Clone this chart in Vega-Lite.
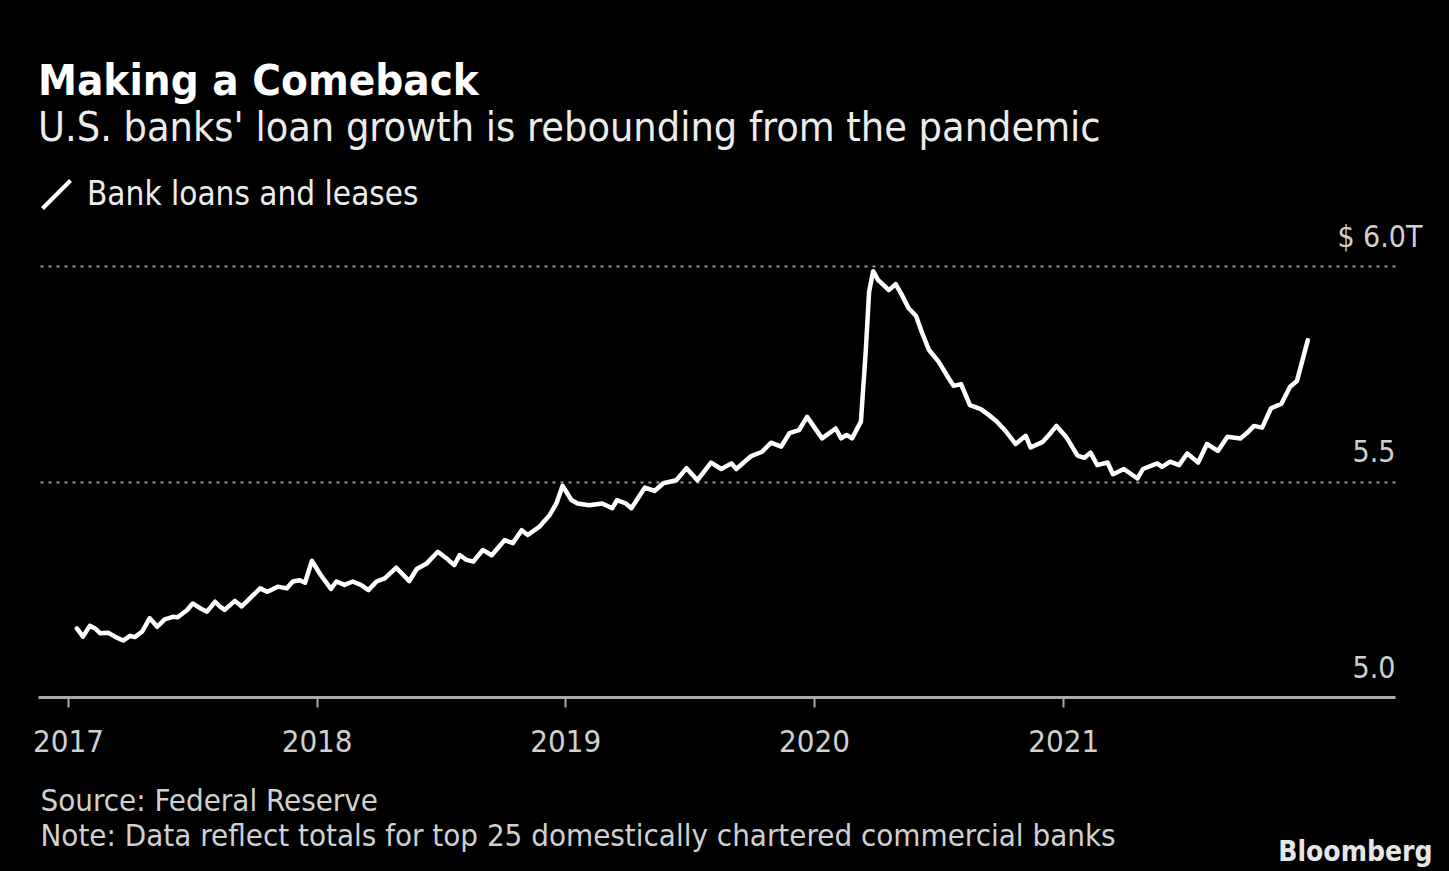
{
  "$schema": "https://vega.github.io/schema/vega-lite/v6.json",
  "width": 1357,
  "height": 431,
  "autosize": {"type": "none"},
  "padding": {"left": 38, "top": 266, "right": 54, "bottom": 174},
  "background": "#000000",
  "config": {
    "view": {"stroke": null},
    "font": "DejaVu Sans Condensed, DejaVu Sans"
  },
  "title": {
    "text": "Making a Comeback",
    "subtitle": "U.S. banks' loan growth is rebounding from the pandemic",
    "anchor": "start",
    "frame": "group",
    "orient": "top",
    "offset": 28,
    "font": "DejaVu Sans Condensed, DejaVu Sans",
    "fontSize": 43.5,
    "fontWeight": "bold",
    "color": "#ffffff",
    "subtitleFont": "DejaVu Sans Condensed, DejaVu Sans",
    "subtitleFontSize": 41,
    "subtitleColor": "#ececec",
    "subtitlePadding": 5
  },
  "data": {
    "values": [
      {"date": "2017-01-14", "value": 5.159},
      {"date": "2017-01-23", "value": 5.140},
      {"date": "2017-02-02", "value": 5.165},
      {"date": "2017-02-10", "value": 5.159},
      {"date": "2017-02-17", "value": 5.148},
      {"date": "2017-03-01", "value": 5.149},
      {"date": "2017-03-11", "value": 5.140},
      {"date": "2017-03-23", "value": 5.131},
      {"date": "2017-04-02", "value": 5.142},
      {"date": "2017-04-09", "value": 5.139},
      {"date": "2017-04-20", "value": 5.152},
      {"date": "2017-05-01", "value": 5.183},
      {"date": "2017-05-12", "value": 5.163},
      {"date": "2017-05-23", "value": 5.180},
      {"date": "2017-06-04", "value": 5.186},
      {"date": "2017-06-11", "value": 5.185},
      {"date": "2017-06-25", "value": 5.202},
      {"date": "2017-07-03", "value": 5.217},
      {"date": "2017-07-14", "value": 5.206},
      {"date": "2017-07-24", "value": 5.198},
      {"date": "2017-08-05", "value": 5.221},
      {"date": "2017-08-12", "value": 5.210},
      {"date": "2017-08-19", "value": 5.202},
      {"date": "2017-09-03", "value": 5.223},
      {"date": "2017-09-13", "value": 5.210},
      {"date": "2017-09-25", "value": 5.229},
      {"date": "2017-10-10", "value": 5.252},
      {"date": "2017-10-21", "value": 5.244},
      {"date": "2017-11-05", "value": 5.256},
      {"date": "2017-11-18", "value": 5.252},
      {"date": "2017-11-27", "value": 5.268},
      {"date": "2017-12-07", "value": 5.271},
      {"date": "2017-12-15", "value": 5.265},
      {"date": "2017-12-25", "value": 5.316},
      {"date": "2018-01-07", "value": 5.283},
      {"date": "2018-01-22", "value": 5.251},
      {"date": "2018-01-30", "value": 5.268},
      {"date": "2018-02-11", "value": 5.260},
      {"date": "2018-02-23", "value": 5.268},
      {"date": "2018-03-07", "value": 5.260},
      {"date": "2018-03-18", "value": 5.248},
      {"date": "2018-03-30", "value": 5.268},
      {"date": "2018-04-11", "value": 5.275},
      {"date": "2018-04-28", "value": 5.300},
      {"date": "2018-05-17", "value": 5.269},
      {"date": "2018-05-28", "value": 5.297},
      {"date": "2018-06-11", "value": 5.309},
      {"date": "2018-06-28", "value": 5.337},
      {"date": "2018-07-12", "value": 5.320},
      {"date": "2018-07-22", "value": 5.306},
      {"date": "2018-07-30", "value": 5.329},
      {"date": "2018-08-09", "value": 5.318},
      {"date": "2018-08-19", "value": 5.314},
      {"date": "2018-09-02", "value": 5.341},
      {"date": "2018-09-15", "value": 5.329},
      {"date": "2018-09-26", "value": 5.349},
      {"date": "2018-10-04", "value": 5.364},
      {"date": "2018-10-16", "value": 5.357},
      {"date": "2018-10-29", "value": 5.387},
      {"date": "2018-11-07", "value": 5.376},
      {"date": "2018-11-24", "value": 5.395},
      {"date": "2018-12-09", "value": 5.422},
      {"date": "2018-12-19", "value": 5.449},
      {"date": "2018-12-28", "value": 5.490},
      {"date": "2019-01-10", "value": 5.457},
      {"date": "2019-01-19", "value": 5.449},
      {"date": "2019-02-05", "value": 5.445},
      {"date": "2019-02-24", "value": 5.449},
      {"date": "2019-03-11", "value": 5.438},
      {"date": "2019-03-18", "value": 5.457},
      {"date": "2019-03-31", "value": 5.449},
      {"date": "2019-04-08", "value": 5.438},
      {"date": "2019-04-28", "value": 5.486},
      {"date": "2019-05-12", "value": 5.478},
      {"date": "2019-05-25", "value": 5.496},
      {"date": "2019-06-13", "value": 5.503},
      {"date": "2019-06-28", "value": 5.531},
      {"date": "2019-07-14", "value": 5.503},
      {"date": "2019-08-03", "value": 5.544},
      {"date": "2019-08-18", "value": 5.529},
      {"date": "2019-09-02", "value": 5.542},
      {"date": "2019-09-09", "value": 5.529},
      {"date": "2019-10-01", "value": 5.559},
      {"date": "2019-10-17", "value": 5.569},
      {"date": "2019-10-30", "value": 5.590},
      {"date": "2019-11-14", "value": 5.581},
      {"date": "2019-11-26", "value": 5.612},
      {"date": "2019-12-10", "value": 5.619},
      {"date": "2019-12-22", "value": 5.650},
      {"date": "2020-01-13", "value": 5.600},
      {"date": "2020-02-02", "value": 5.623},
      {"date": "2020-02-10", "value": 5.600},
      {"date": "2020-02-18", "value": 5.608},
      {"date": "2020-02-26", "value": 5.600},
      {"date": "2020-03-10", "value": 5.639},
      {"date": "2020-03-17", "value": 5.800},
      {"date": "2020-03-22", "value": 5.940},
      {"date": "2020-03-28", "value": 5.988},
      {"date": "2020-04-04", "value": 5.968},
      {"date": "2020-04-20", "value": 5.944},
      {"date": "2020-04-30", "value": 5.958},
      {"date": "2020-05-09", "value": 5.933},
      {"date": "2020-05-19", "value": 5.902},
      {"date": "2020-05-30", "value": 5.884},
      {"date": "2020-06-07", "value": 5.848},
      {"date": "2020-06-18", "value": 5.805},
      {"date": "2020-07-02", "value": 5.778},
      {"date": "2020-07-17", "value": 5.739},
      {"date": "2020-07-24", "value": 5.722},
      {"date": "2020-08-04", "value": 5.726},
      {"date": "2020-08-17", "value": 5.677},
      {"date": "2020-09-02", "value": 5.668},
      {"date": "2020-09-14", "value": 5.654},
      {"date": "2020-09-25", "value": 5.640},
      {"date": "2020-10-09", "value": 5.616},
      {"date": "2020-10-23", "value": 5.587},
      {"date": "2020-11-07", "value": 5.606},
      {"date": "2020-11-14", "value": 5.579},
      {"date": "2020-12-02", "value": 5.592},
      {"date": "2020-12-11", "value": 5.608},
      {"date": "2020-12-22", "value": 5.629},
      {"date": "2021-01-05", "value": 5.604},
      {"date": "2021-01-22", "value": 5.560},
      {"date": "2021-02-01", "value": 5.555},
      {"date": "2021-02-10", "value": 5.567},
      {"date": "2021-02-20", "value": 5.538},
      {"date": "2021-03-07", "value": 5.544},
      {"date": "2021-03-15", "value": 5.517},
      {"date": "2021-03-31", "value": 5.529},
      {"date": "2021-04-20", "value": 5.507},
      {"date": "2021-04-28", "value": 5.529},
      {"date": "2021-05-19", "value": 5.542},
      {"date": "2021-05-26", "value": 5.534},
      {"date": "2021-06-07", "value": 5.546},
      {"date": "2021-06-20", "value": 5.538},
      {"date": "2021-07-02", "value": 5.565},
      {"date": "2021-07-18", "value": 5.544},
      {"date": "2021-07-31", "value": 5.587},
      {"date": "2021-08-16", "value": 5.571},
      {"date": "2021-08-30", "value": 5.604},
      {"date": "2021-09-18", "value": 5.600},
      {"date": "2021-09-28", "value": 5.613},
      {"date": "2021-10-08", "value": 5.629},
      {"date": "2021-10-20", "value": 5.625},
      {"date": "2021-11-02", "value": 5.670},
      {"date": "2021-11-17", "value": 5.680},
      {"date": "2021-11-30", "value": 5.720},
      {"date": "2021-12-10", "value": 5.733},
      {"date": "2021-12-26", "value": 5.828}
    ]
  },
  "mark": {"type": "line", "strokeWidth": 4.5, "strokeJoin": "round", "strokeCap": "round"},
  "encoding": {
    "x": {
      "field": "date",
      "type": "temporal",
      "scale": {"domain": [{"year": 2016, "month": 11, "date": 18}, {"year": 2022, "month": 5, "date": 3}]},
      "axis": {
        "values": [
          {"year": 2017, "month": 1, "date": 1},
          {"year": 2018, "month": 1, "date": 1},
          {"year": 2019, "month": 1, "date": 1},
          {"year": 2020, "month": 1, "date": 1},
          {"year": 2021, "month": 1, "date": 1}
        ],
        "format": "%Y",
        "grid": false,
        "domainColor": "#aaaaaa",
        "domainWidth": 3,
        "tickColor": "#aaaaaa",
        "tickWidth": 2,
        "tickSize": 10,
        "labelFontSize": 31,
        "labelColor": "#d0d0d0",
        "labelPadding": 20,
        "labelFlush": false,
        "labelOverlap": false,
        "title": ["Source: Federal Reserve", "Note: Data reflect totals for top 25 domestically chartered commercial banks"],
        "titleAnchor": "start",
        "titleAlign": "left",
        "titleBaseline": "alphabetic",
        "titleX": 2,
        "titleY": 113,
        "titleFontSize": 31,
        "titleFontWeight": "normal",
        "titleColor": "#d0d0d0",
        "titleLineHeight": 35
      }
    },
    "y": {
      "field": "value",
      "type": "quantitative",
      "scale": {"domain": [5, 6], "zero": false, "nice": false},
      "axis": {
        "orient": "right",
        "values": [5, 5.5, 6],
        "labelExpr": "datum.value == 6 ? '$ 6.0T' : format(datum.value, '.1f')",
        "domain": false,
        "ticks": false,
        "tickSize": 0,
        "grid": true,
        "gridDash": [3, 5],
        "gridColor": "#9a9a9a",
        "gridWidth": 2,
        "gridOpacity": {"condition": {"test": "datum.value == 5", "value": 0}, "value": 1},
        "labelAlign": "right",
        "labelBaseline": "alphabetic",
        "labelOffset": -20,
        "labelPadding": {"condition": {"test": "datum.value == 6", "value": 27}, "value": 0},
        "labelFontSize": 30,
        "labelColor": "#d0d0d0",
        "labelFlush": false,
        "labelOverlap": false,
        "title": "Bloomberg",
        "titleAngle": 0,
        "titleX": 37,
        "titleY": 594,
        "titleAlign": "right",
        "titleBaseline": "alphabetic",
        "titleFontSize": 28,
        "titleFontWeight": "bold",
        "titleColor": "#e6e6e6"
      }
    },
    "color": {
      "datum": "Bank loans and leases",
      "type": "nominal",
      "scale": {"range": ["#ffffff"]},
      "legend": {
        "orient": "none",
        "legendX": 2,
        "legendY": -88,
        "title": null,
        "symbolType": "M-1,1L1,-1",
        "symbolSize": 784,
        "symbolStrokeWidth": 4,
        "symbolFillColor": "transparent",
        "labelFontSize": 33,
        "labelLimit": 0,
        "labelColor": "#ececec",
        "labelOffset": 14
      }
    }
  }
}
